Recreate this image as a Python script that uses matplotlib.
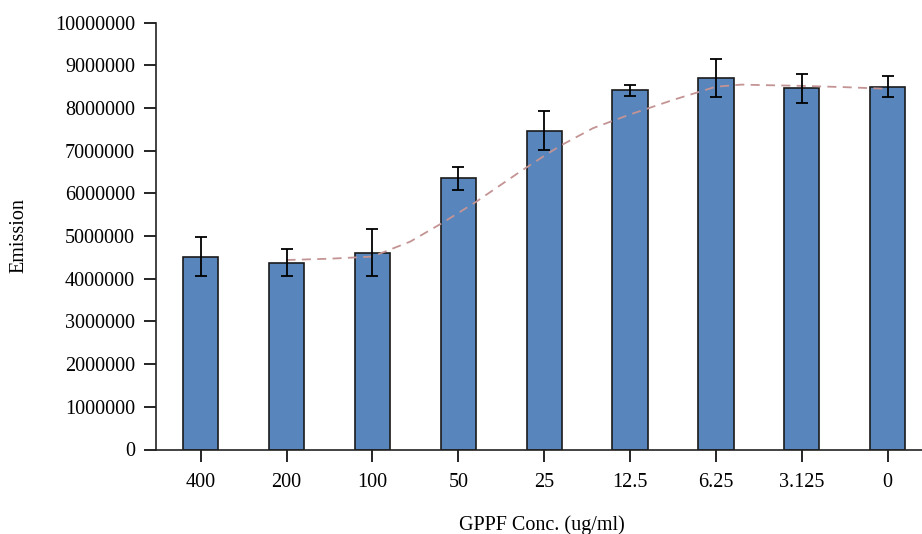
import matplotlib
matplotlib.use("Agg")
import matplotlib.pyplot as plt
import numpy as np

# concentrations (ug/ml) and measured emission
conc_labels = ['400', '200', '100', '50', '25', '12.5', '6.25', '3.125', '0']
emission = [4520000, 4380000, 4610000, 6350000, 7470000, 8420000, 8710000, 8460000, 8500000]
emission_err = [450000, 320000, 550000, 260000, 450000, 130000, 450000, 330000, 240000]

# dashed fit curve (x in category units)
fit_x = [1.0, 1.5, 2.0, 2.2, 2.44, 2.79, 3.19, 3.72, 4.0, 4.2, 4.57, 5.0, 5.5, 6.0, 6.3, 6.5, 7.0, 7.5, 8.0]
fit_y = [4440000, 4470000, 4520000, 4680000, 4870000, 5280000, 5780000, 6510000, 6880000, 7130000,
         7530000, 7850000, 8190000, 8500000, 8550000, 8540000, 8520000, 8490000, 8450000]

plt.rcParams['font.family'] = ['Liberation Serif', 'DejaVu Serif']

fig = plt.figure(figsize=(9.22, 5.34), dpi=100)
ax = fig.add_axes([156 / 922, 1 - 449.5 / 534, 1 - 156 / 922, (449.5 - 22.7) / 534])

x = np.arange(len(conc_labels))
ax.bar(x, emission, width=0.41, color='#5886bc', edgecolor='#1a1a1a', linewidth=1.2, zorder=2)
ax.plot(fit_x, fit_y, color='#c49494', linestyle=(0, (5, 3.5)), linewidth=1.3, zorder=3)
ax.errorbar(x, emission, yerr=emission_err, fmt='none', ecolor='black', elinewidth=1.3,
            capsize=4.5, capthick=1.3, zorder=4)

ax.set_xlim(-0.52, 8.4)
ax.set_ylim(0, 10000000)
ax.set_yticks(np.arange(0, 10000001, 1000000))
ax.set_yticklabels([str(v) for v in range(0, 10000001, 1000000)])
ax.set_xticks(x)
ax.set_xticklabels(conc_labels)

for s in ['top', 'right']:
    ax.spines[s].set_visible(False)
for s in ['left', 'bottom']:
    ax.spines[s].set_linewidth(1.2)
    ax.spines[s].set_color('#222222')

ax.tick_params(axis='both', direction='out', length=8.6, width=1.2, labelsize=14.5, colors='black')
ax.tick_params(axis='y', pad=6.5)
ax.tick_params(axis='x', pad=8)

fig.text(19 / 922, 1 - 236 / 534, 'Emission', rotation=90, ha='center', va='center', fontsize=14.5)
fig.text(542 / 922, 1 - 525 / 534, 'GPPF Conc. (ug/ml)', ha='center', va='center', fontsize=14.5)

fig.savefig('out.png', dpi=100)
